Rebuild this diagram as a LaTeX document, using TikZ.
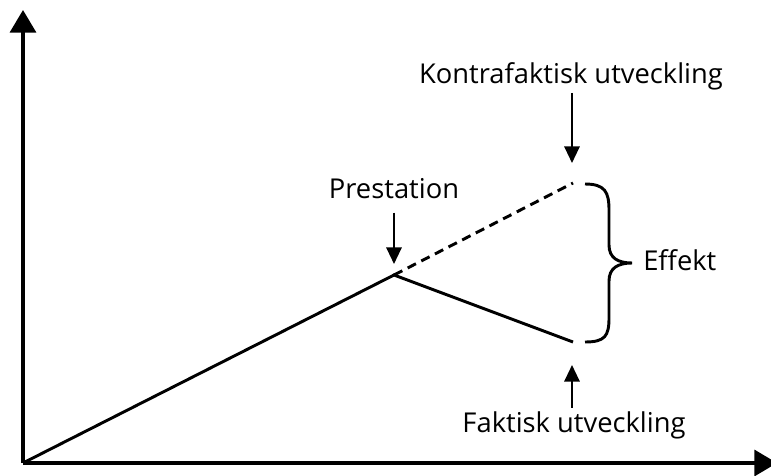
\documentclass[tikz,border=0pt]{standalone}
\usepackage{fontspec}
\setmainfont{Open Sans}
\usetikzlibrary{arrows.meta}
\tikzset{
 axis/.style={line width=2.6pt,-{Triangle[width=19.5pt,length=17pt]}},
 curve/.style={line width=2.2pt},
 pointer/.style={line width=1.6pt,-{Triangle[width=11.5pt,length=12.5pt]}},
 lbl/.style={font=\fontsize{20.5}{24}\selectfont,inner sep=0pt,anchor=base}
}
\begin{document}
\begin{tikzpicture}[x=0.75pt,y=-0.75pt]
 \useasboundingbox (0,0) rectangle (771,475);
 \coordinate (origo) at (23,463);
 \coordinate (ytop) at (23,10);
 \coordinate (xend) at (777,463);
 \coordinate (peak) at (394,275);
 \coordinate (cfend) at (573,183);
 \coordinate (fend) at (573,342);
 \draw[axis] (origo) -- (ytop);
 \draw[axis] (origo) -- (xend);
 \draw[curve] (origo) -- (peak) -- (fend);
 \draw[curve,dash pattern=on 7pt off 4.5pt] (peak) -- (cfend);
 \node[lbl] (prest) at (394,198) {Prestation};
 \node[lbl] (kontra) at (571,83) {Kontrafaktisk utveckling};
 \node[lbl] (faktisk) at (574,432) {Faktisk utveckling};
 \node[lbl,anchor=base west] (effekt) at (643,270) {Effekt};
 \coordinate (prestend) at (394,264);
 \coordinate (kontraend) at (572,163);
 \coordinate (faktiskend) at (572,365);
 \draw[pointer] (prest.south) ++(0,14) coordinate (preststart) -- (prestend);
 \draw[pointer] (kontra.south -| kontraend) ++(0,3) coordinate (kontrastart) -- (kontraend);
 \draw[pointer] (faktisk.north -| faktiskend) ++(0,-3) coordinate (faktiskstart) -- (faktiskend);
 \draw[curve] (585,184) .. controls (605,184) and (609,192) .. (609,210) -- (609,245)
  .. controls (609,258) and (618,263) .. (632,263)
  .. controls (618,263) and (609,268) .. (609,281) -- (609,318)
  .. controls (609,336) and (605,342) .. (585,342);
\end{tikzpicture}
\end{document}
